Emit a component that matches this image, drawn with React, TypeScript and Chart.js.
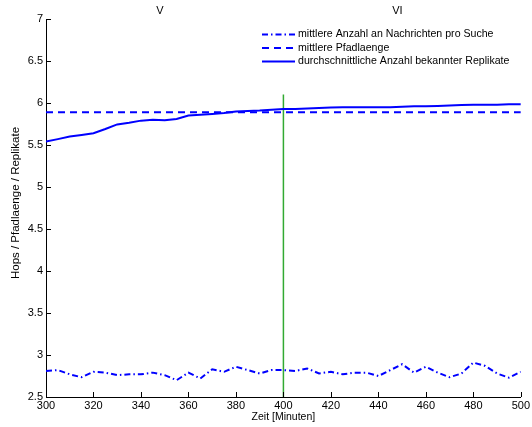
import { useEffect, useRef } from 'react';
import { Chart, registerables } from 'chart.js';

Chart.register(...registerables);

const minutes = [300, 305, 310, 315, 320, 325, 330, 335, 340, 345, 350, 355, 360, 365, 370, 375, 380, 385, 390, 395, 400, 405, 410, 415, 420, 425, 430, 435, 440, 445, 450, 455, 460, 465, 470, 475, 480, 485, 490, 495, 500];

const nachrichten = [2.81, 2.82, 2.77, 2.735, 2.80, 2.79, 2.76, 2.77, 2.77, 2.79, 2.76, 2.70, 2.79, 2.72, 2.83, 2.80, 2.86, 2.82, 2.78, 2.82, 2.82, 2.81, 2.84, 2.78, 2.80, 2.77, 2.79, 2.79, 2.75, 2.82, 2.89, 2.79, 2.86, 2.79, 2.735, 2.78, 2.91, 2.87, 2.78, 2.73, 2.80];

const replikate = [5.54, 5.57, 5.60, 5.62, 5.64, 5.69, 5.745, 5.765, 5.79, 5.80, 5.795, 5.81, 5.85, 5.86, 5.87, 5.88, 5.90, 5.905, 5.91, 5.92, 5.93, 5.93, 5.935, 5.94, 5.945, 5.95, 5.95, 5.95, 5.95, 5.95, 5.955, 5.96, 5.96, 5.965, 5.97, 5.975, 5.98, 5.98, 5.98, 5.985, 5.985];

const pfadX = [300, 500];
const pfadY = [5.89, 5.89];

const markerX = [400, 400];
const markerY = [2.5, 6.1];

const topLabels = ['V', 'VI'];
const topLabelPos = [348, 448];

const legendLabels = [
  'mittlere Anzahl an Nachrichten pro Suche',
  'mittlere Pfadlaenge',
  'durchschnittliche Anzahl bekannter Replikate',
];

const yTitle = 'Hops / Pfadlaenge / Replikate';
const xTitle = 'Zeit [Minuten]';

const FONT = '"Liberation Sans", Arial, Helvetica, sans-serif';

const dashDot = [6, 3, 1.5, 3];
const dashed = [7, 5];

export default function App() {
  const ref = useRef<HTMLCanvasElement>(null);

  useEffect(() => {
    const canvas = ref.current!;
    Chart.defaults.font.family = FONT;

    const overlay = {
      id: 'overlay',
      afterDraw(chart: any) {
        const ctx = chart.ctx as CanvasRenderingContext2D;
        const xs = chart.scales.x;
        const ys = chart.scales.y;
        const area = chart.chartArea;
        ctx.save();
        ctx.strokeStyle = '#000';
        ctx.lineWidth = 1;
        ctx.setLineDash([]);
        // inward ticks
        xs.ticks.forEach((t: any) => {
          const px = Math.round(xs.getPixelForValue(t.value)) + 0.5;
          ctx.beginPath();
          ctx.moveTo(px, area.bottom);
          ctx.lineTo(px, area.bottom - 5);
          ctx.stroke();
        });
        ys.ticks.forEach((t: any) => {
          const py = Math.round(ys.getPixelForValue(t.value)) + 0.5;
          ctx.beginPath();
          ctx.moveTo(area.left, py);
          ctx.lineTo(area.left + 5, py);
          ctx.stroke();
        });
        // y title
        ctx.fillStyle = '#000';
        ctx.font = `11.5px ${FONT}`;
        ctx.textAlign = 'center';
        ctx.textBaseline = 'middle';
        ctx.save();
        ctx.translate(16, 203);
        ctx.rotate(-Math.PI / 2);
        ctx.fillText(yTitle, 0, 0);
        ctx.restore();
        // top labels
        ctx.font = `11px ${FONT}`;
        topLabels.forEach((l, i) => {
          ctx.fillText(l, xs.getPixelForValue(topLabelPos[i]), 11);
        });
        // legend
        const dsList = chart.data.datasets;
        const rowsY = [34.5, 48, 61.5];
        ctx.textAlign = 'left';
        ctx.font = `10.6px ${FONT}`;
        legendLabels.forEach((l, i) => {
          const ds = dsList[i];
          ctx.strokeStyle = ds.borderColor;
          ctx.lineWidth = ds.borderWidth;
          ctx.setLineDash(ds.borderDash || []);
          ctx.beginPath();
          ctx.moveTo(262, rowsY[i]);
          ctx.lineTo(295, rowsY[i]);
          ctx.stroke();
          ctx.setLineDash([]);
          ctx.fillStyle = '#000';
          ctx.fillText(l, 298, rowsY[i]);
        });
        ctx.restore();
      },
    };

    const chart = new Chart(canvas, {
      type: 'line',
      data: {
        datasets: [
          {
            label: legendLabels[0],
            data: minutes.map((m, i) => ({ x: m, y: nachrichten[i] })),
            borderColor: '#0000ff',
            borderWidth: 2,
            borderDash: dashDot,
            pointRadius: 0,
            tension: 0,
            fill: false,
          },
          {
            label: legendLabels[1],
            data: pfadX.map((m, i) => ({ x: m, y: pfadY[i] })),
            borderColor: '#0000ff',
            borderWidth: 2,
            borderDash: dashed,
            pointRadius: 0,
            fill: false,
          },
          {
            label: legendLabels[2],
            data: minutes.map((m, i) => ({ x: m, y: replikate[i] })),
            borderColor: '#0000ff',
            borderWidth: 2,
            pointRadius: 0,
            tension: 0,
            fill: false,
          },
          {
            label: 'marker',
            data: markerX.map((m, i) => ({ x: m, y: markerY[i] })),
            borderColor: 'rgb(50,170,50)',
            borderWidth: 1.5,
            pointRadius: 0,
            fill: false,
          },
        ],
      },
      options: {
        animation: false,
        responsive: false,
        maintainAspectRatio: false,
        layout: { padding: { top: 19, right: 9, left: 0, bottom: 0 } },
        plugins: { legend: { display: false }, tooltip: { enabled: false } },
        scales: {
          x: {
            type: 'linear',
            min: 300,
            max: 500,
            ticks: { stepSize: 20, color: '#000', font: { size: 11 }, padding: 2, maxRotation: 0 },
            grid: { display: false, drawTicks: false },
            border: { display: true, color: '#000', width: 1 },
            title: { display: true, text: xTitle, color: '#000', font: { size: 10.5 }, padding: { top: 0, bottom: 4 } },
            afterFit: (s: any) => { s.height = 30; },
          },
          y: {
            type: 'linear',
            min: 2.5,
            max: 7,
            ticks: { stepSize: 0.5, color: '#000', font: { size: 11 }, padding: 3, callback: (v: any) => String(v) },
            grid: { display: false, drawTicks: false },
            border: { display: true, color: '#000', width: 1 },
            title: { display: false },
            afterFit: (s: any) => { s.width = 46; },
          },
        },
      } as any,
      plugins: [overlay],
    });
    return () => chart.destroy();
  }, []);

  return (
    <div style={{ position: 'fixed', left: 0, top: 0, width: 532, height: 427, background: '#fff' }}>
      <canvas ref={ref} width={532} height={427} style={{ width: 532, height: 427, display: 'block' }} />
    </div>
  );
}
